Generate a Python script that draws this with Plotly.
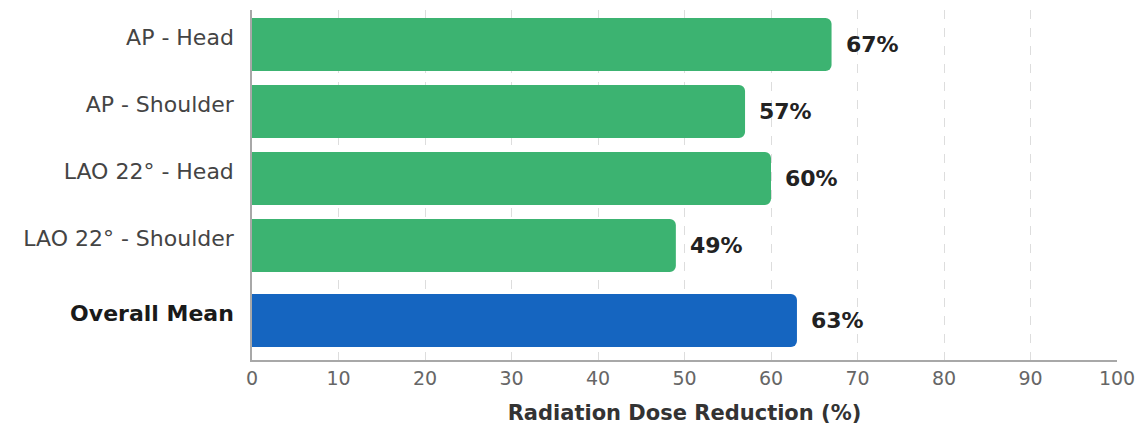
import plotly.graph_objects as go

# Radiation dose reduction by projection / position
categories = ["AP - Head", "AP - Shoulder", "LAO 22° - Head", "LAO 22° - Shoulder", "Overall Mean"]
reduction = [67, 57, 60, 49, 63]
is_summary = [False, False, False, False, True]

GREEN = "#3CB371"
BLUE = "#1565C0"
FONT = "DejaVu Sans"
SUMMARY_GAP = 0.12  # extra space separating the summary row

# row positions (top to bottom), summary row pushed down a little
rows = []
for i, s in enumerate(is_summary):
    rows.append(i + (SUMMARY_GAP if s else 0))

colors = [BLUE if s else GREEN for s in is_summary]
tick_text = [
    f"<span style='color:#1a1a1a'><b>{c}</b></span>" if s else c
    for c, s in zip(categories, is_summary)
]

fig = go.Figure(
    go.Bar(
        x=reduction,
        y=rows,
        orientation="h",
        width=0.79,
        marker=dict(color=colors, line=dict(width=0)),
        hovertemplate="%{x}%<extra></extra>",
    )
)

for v, r in zip(reduction, rows):
    fig.add_annotation(
        x=v, y=r, xref="x", yref="y",
        text=f"<b>{v}%</b>",
        showarrow=False, xanchor="left", yanchor="middle",
        xshift=12,
        font=dict(family=FONT, size=22, color="#222222"),
    )

fig.update_layout(
    width=1146,
    height=428,
    margin=dict(l=252, r=29, t=10, b=68),
    paper_bgcolor="white",
    plot_bgcolor="white",
    barcornerradius=6,
    showlegend=False,
    font=dict(family=FONT),
)

fig.update_xaxes(
    range=[0, 100],
    dtick=10,
    automargin=False,
    showgrid=True,
    gridcolor="#dddddd",
    griddash="dash",
    gridwidth=1,
    zeroline=False,
    showline=True,
    linecolor="#a8a8a8",
    linewidth=1.5,
    ticks="",
    tickfont=dict(family=FONT, size=19, color="#666666"),
    title=dict(
        text="<b>Radiation Dose Reduction (%)</b>",
        font=dict(family=FONT, size=21, color="#333333"),
        standoff=18,
    ),
)

fig.update_yaxes(
    range=[rows[-1] + 0.59, -0.515],
    tickvals=rows,
    ticktext=tick_text,
    automargin=False,
    showgrid=False,
    zeroline=False,
    showline=True,
    linecolor="#a8a8a8",
    linewidth=1.5,
    ticks="",
    ticklabelstandoff=12,
    ticklabelshift=7,
    tickfont=dict(family=FONT, size=22, color="#444444"),
)

fig.write_html("out.html")
